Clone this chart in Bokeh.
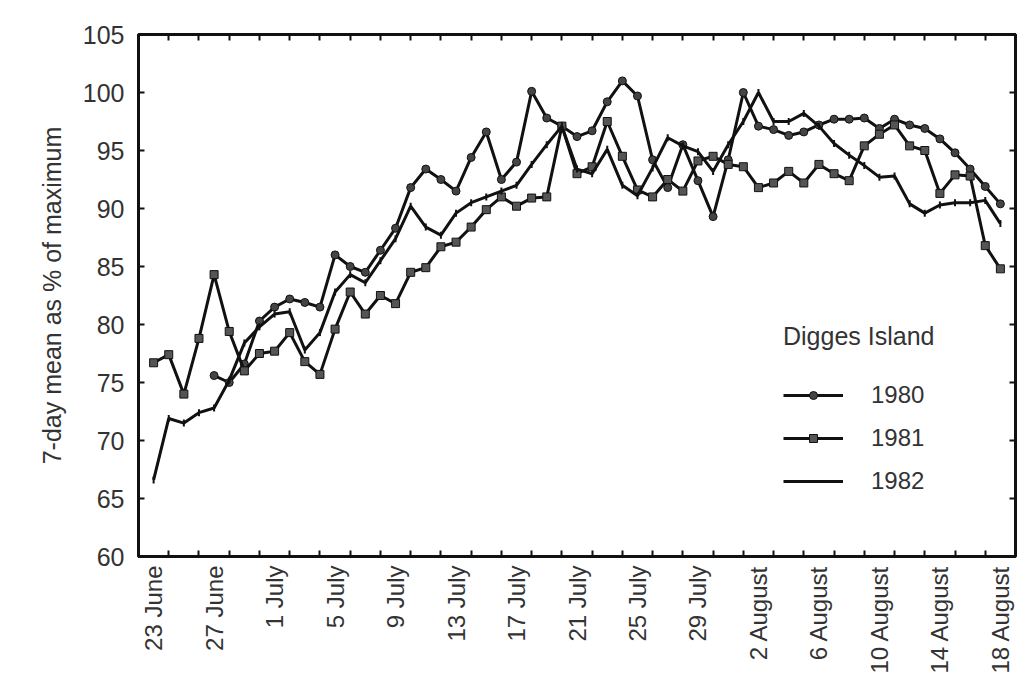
import math
from bokeh.plotting import figure
from bokeh.models import FixedTicker, LinearAxis, Legend, LegendItem, Range1d
from bokeh.embed import file_html
from bokeh.resources import INLINE

# ---- data: day index 0 = 23 June ----
tick_days = [0, 4, 8, 12, 16, 20, 24, 28, 32, 36, 40, 44, 48, 52, 56]
tick_labels = ["23 June", "27 June", "1 July", "5 July", "9 July", "13 July",
               "17 July", "21 July", "25 July", "29 July", "2 August",
               "6 August", "10 August", "14 August", "18 August"]
y_ticks = [60, 65, 70, 75, 80, 85, 90, 95, 100, 105]

days_1980 = list(range(4, 57))
vals_1980 = [75.6, 75.0, 76.6, 80.3, 81.5, 82.2, 81.9, 81.5, 86.0, 85.0,
             84.5, 86.4, 88.3, 91.8, 93.4, 92.5, 91.5, 94.4, 96.6, 92.5,
             94.0, 100.1, 97.8, 97.1, 96.2, 96.7, 99.2, 101.0, 99.7, 94.2,
             91.8, 95.5, 92.4, 89.3, 94.2, 100.0, 97.1, 96.8, 96.3, 96.6,
             97.2, 97.7, 97.7, 97.8, 96.9, 97.7, 97.2, 96.9, 96.0, 94.8,
             93.4, 91.9, 90.4]

days_1981 = list(range(0, 57))
vals_1981 = [76.7, 77.4, 74.0, 78.8, 84.3, 79.4, 76.0, 77.5, 77.7, 79.3,
             76.8, 75.7, 79.6, 82.8, 80.9, 82.5, 81.8, 84.5, 84.9, 86.7,
             87.1, 88.4, 89.9, 91.0, 90.2, 90.9, 91.0, 97.1, 93.0, 93.6,
             97.5, 94.5, 91.6, 91.0, 92.5, 91.5, 94.1, 94.5, 93.8, 93.6,
             91.8, 92.2, 93.2, 92.2, 93.8, 93.0, 92.4, 95.4, 96.4, 97.2,
             95.4, 95.0, 91.3, 92.9, 92.8, 86.8, 84.8]

days_1982 = list(range(0, 57))
vals_1982 = [66.6, 71.9, 71.5, 72.4, 72.8, 75.2, 78.4, 79.8, 80.9, 81.1,
             77.8, 79.3, 82.8, 84.3, 83.6, 85.5, 87.4, 90.2, 88.4, 87.7,
             89.6, 90.5, 91.0, 91.5, 92.0, 93.8, 95.5, 97.1, 93.4, 93.0,
             95.1, 92.0, 91.1, 93.5, 96.1, 95.4, 94.9, 93.2, 95.5, 97.5,
             100.0, 97.5, 97.5, 98.2, 97.1, 95.6, 94.6, 93.7, 92.7, 92.8,
             90.4, 89.6, 90.3, 90.5, 90.5, 90.7, 88.7]

FONT = "Liberation Sans"
TXT = "#333333"
LINE = "#111111"

p = figure(width=1026, height=676, x_range=Range1d(-1, 57), y_range=Range1d(60, 105),
           x_axis_type=None, y_axis_type=None, output_backend="svg",
           toolbar_location=None, min_border_left=138, min_border_right=11,
           min_border_top=34, min_border_bottom=119)
p.grid.visible = False
p.outline_line_color = LINE
p.outline_line_width = 3
p.background_fill_color = "white"
p.border_fill_color = "white"

odd_days = list(range(1, 57, 2))

def style_axis(ax):
    ax.axis_line_color = LINE
    ax.axis_line_width = 3
    ax.major_tick_line_color = LINE
    ax.major_tick_line_width = 2
    ax.minor_tick_line_color = LINE
    ax.minor_tick_line_width = 2
    ax.major_tick_out = 0
    ax.minor_tick_out = 0
    ax.major_label_text_font = FONT
    ax.major_label_text_color = TXT

bottom = LinearAxis(ticker=FixedTicker(ticks=tick_days, minor_ticks=odd_days),
                    major_label_overrides={d: l for d, l in zip(tick_days, tick_labels)},
                    major_label_orientation=math.pi / 2)
style_axis(bottom)
bottom.major_tick_in = 0
bottom.minor_tick_in = 6
bottom.major_label_text_font_size = "24px"
bottom.major_label_standoff = 9
p.add_layout(bottom, "below")

top = LinearAxis(ticker=FixedTicker(ticks=[], minor_ticks=odd_days))
style_axis(top)
top.major_tick_in = 0
top.minor_tick_in = 6
top.major_label_standoff = 0
p.add_layout(top, "above")

left = LinearAxis(ticker=FixedTicker(ticks=y_ticks, minor_ticks=[]),
                  axis_label="7-day mean as % of maximum")
style_axis(left)
left.major_tick_in = 6
left.minor_tick_in = 0
left.major_label_text_font_size = "25px"
left.major_label_standoff = 14
left.axis_label_text_font = FONT
left.axis_label_text_font_style = "normal"
left.axis_label_text_font_size = "25px"
left.axis_label_text_color = TXT
left.axis_label_standoff = 14
p.add_layout(left, "left")

right = LinearAxis(ticker=FixedTicker(ticks=[], minor_ticks=y_ticks))
style_axis(right)
right.major_tick_in = 0
right.minor_tick_in = 6
right.major_label_standoff = 0
p.add_layout(right, "right")

l80 = p.line(days_1980, vals_1980, line_color=LINE, line_width=3)
s80 = p.scatter(days_1980, vals_1980, marker="circle", size=8,
                fill_color="#444444", line_color=LINE, line_width=1)
l81 = p.line(days_1981, vals_1981, line_color=LINE, line_width=3)
s81 = p.scatter(days_1981, vals_1981, marker="square", size=8,
                fill_color="#555555", line_color=LINE, line_width=1)
l82 = p.line(days_1982, vals_1982, line_color=LINE, line_width=3)
s82 = p.scatter(days_1982, vals_1982, marker="dash", angle=math.pi / 2, size=7,
                line_color=LINE, line_width=2)

legend = Legend(items=[LegendItem(label="1980", renderers=[l80, s80]),
                       LegendItem(label="1981", renderers=[l81, s81]),
                       LegendItem(label="1982", renderers=[l82, s82])],
                title="Digges Island", location=(645, 61))
legend.title_text_font = FONT
legend.title_text_font_style = "normal"
legend.title_text_font_size = "25px"
legend.title_text_color = TXT
legend.title_standoff = 30
legend.label_text_font = FONT
legend.label_text_font_size = "24px"
legend.label_text_color = TXT
legend.label_standoff = 28
legend.glyph_width = 60
legend.glyph_height = 20
legend.label_height = 20
legend.spacing = 15
legend.padding = 0
legend.margin = 0
legend.border_line_color = None
legend.background_fill_alpha = 0
p.add_layout(legend, "center")

open("out.html", "w").write(file_html(p, INLINE))
